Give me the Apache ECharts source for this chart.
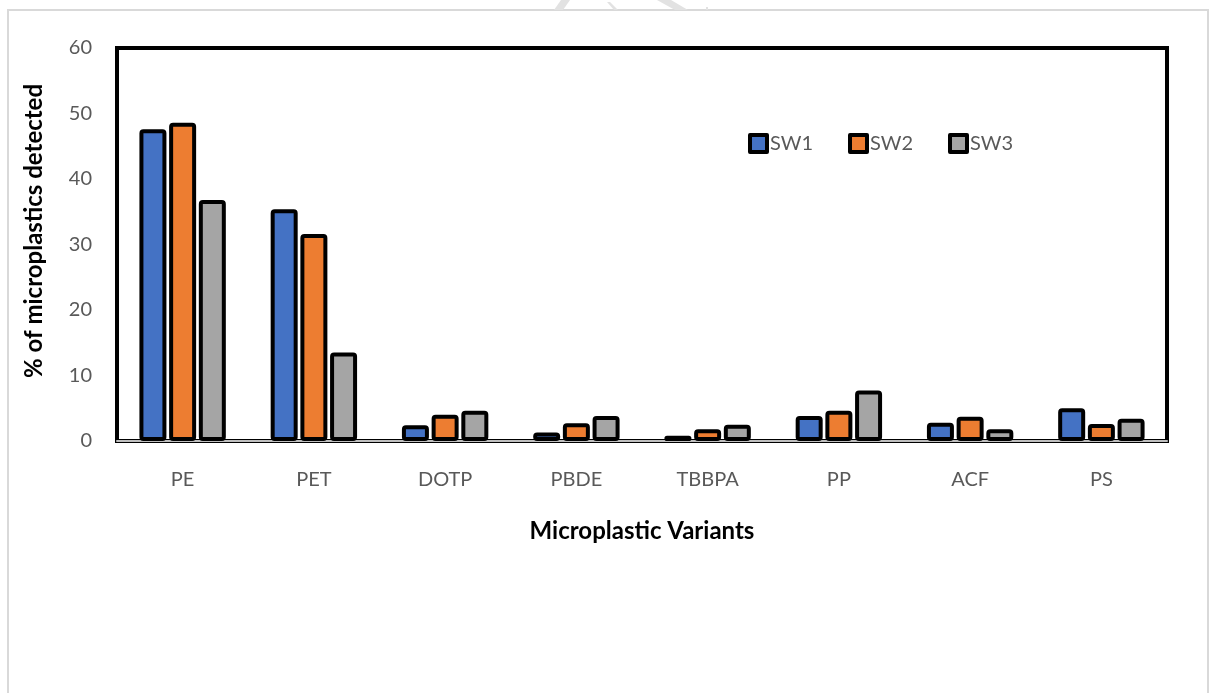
<!DOCTYPE html>
<html>
<head>
<meta charset="utf-8">
<style>
  html, body { margin: 0; padding: 0; background: #ffffff; }
  #chart { width: 1210px; height: 693px; }
</style>
<script src="https://cdn.jsdelivr.net/npm/echarts@6/dist/echarts.min.js"></script>
</head>
<body>
<div id="chart"></div>
<script>
// Share of each microplastic polymer detected at the three sampling sites
const categories = ['PE', 'PET', 'DOTP', 'PBDE', 'TBBPA', 'PP', 'ACF', 'PS'];
const sw1 = [47.6, 35.4, 2.4, 1.3, 0.8, 3.8, 2.8, 5.0];
const sw2 = [48.6, 31.6, 4.0, 2.7, 1.8, 4.6, 3.7, 2.6];
const sw3 = [36.8, 13.5, 4.6, 3.8, 2.5, 7.7, 1.8, 3.4];
const seriesNames = ['SW1', 'SW2', 'SW3'];
const seriesColors = ['#4472C4', '#ED7D31', '#A5A5A5'];
const yTicks = { min: 0, max: 60, interval: 10 };

const FONT = 'Lato, "Open Sans", sans-serif';
const TEXT = '#595959';

const chart = echarts.init(document.getElementById('chart'), null, { renderer: 'canvas' });

const seriesData = [sw1, sw2, sw3];

function legendItem(i, left) {
  return {
    show: true,
    data: [seriesNames[i]],
    left: left,
    top: 128,
    padding: 5,
    itemWidth: 17,
    itemHeight: 17,
    icon: 'rect',
    itemStyle: { borderColor: '#000', borderWidth: 4 },
    textStyle: { color: TEXT, fontSize: 20, fontFamily: FONT, padding: [0, 0, 0, -2] }
  };
}

chart.setOption({
  backgroundColor: '#ffffff',
  animation: false,
  grid: {
    left: 117, top: 48, width: 1050, height: 393,
    show: true, borderColor: '#000', borderWidth: 4, backgroundColor: 'transparent'
  },
  legend: [legendItem(0, 743), legendItem(1, 843), legendItem(2, 943)],
  xAxis: {
    type: 'category',
    data: categories,
    axisLine: { show: true, lineStyle: { color: '#BFBFBF', width: 2 } },
    axisTick: { show: false },
    axisLabel: { color: TEXT, fontSize: 20, fontFamily: FONT, margin: 29 }
  },
  yAxis: {
    type: 'value',
    min: yTicks.min, max: yTicks.max, interval: yTicks.interval,
    axisLine: { show: false },
    axisTick: { show: false },
    splitLine: { show: false },
    axisLabel: { color: TEXT, fontSize: 20, fontFamily: FONT, margin: 25 }
  },
  series: seriesNames.map((name, i) => ({
    name: name,
    type: 'bar',
    data: seriesData[i],
    barWidth: 27,
    barGap: '10%',
    itemStyle: {
      color: seriesColors[i],
      borderColor: '#000',
      borderWidth: 4,
      borderRadius: 2,
      borderJoin: 'round'
    }
  })),
  graphic: [
    // page frame
    {
      type: 'polyline',
      shape: { points: [[8, 693], [8, 10], [1208, 10], [1208, 693]] },
      style: { stroke: '#D9D9D9', lineWidth: 2, fill: null },
      silent: true
    },
    // faint stamp strokes along the top edge
    {
      type: 'polygon',
      shape: { points: [[561, 0], [570, 0], [563, 10], [554, 10]] },
      style: { fill: '#E2E2E2' }, silent: true
    },
    {
      type: 'polygon',
      shape: { points: [[607, 2], [610, 2], [618, 10], [614, 10]] },
      style: { fill: '#E2E2E2' }, silent: true
    },
    {
      type: 'polygon',
      shape: { points: [[657, 0], [671, 0], [688, 10], [675, 10]] },
      style: { fill: '#E2E2E2' }, silent: true
    },
    {
      type: 'rect',
      shape: { x: 706, y: 7, width: 2, height: 3 },
      style: { fill: '#E2E2E2' }, silent: true
    },
    // axis titles
    {
      type: 'text',
      x: 642, y: 531,
      style: {
        text: 'Microplastic Variants',
        fill: '#000', font: 'bold 24px ' + FONT,
        textAlign: 'center', textVerticalAlign: 'middle'
      },
      silent: true
    },
    {
      type: 'text',
      x: 34, y: 231,
      rotation: Math.PI / 2,
      style: {
        text: '% of microplastics detected',
        fill: '#000', font: 'bold 24px ' + FONT,
        textAlign: 'center', textVerticalAlign: 'middle'
      },
      silent: true
    }
  ]
});
</script>
</body>
</html>
